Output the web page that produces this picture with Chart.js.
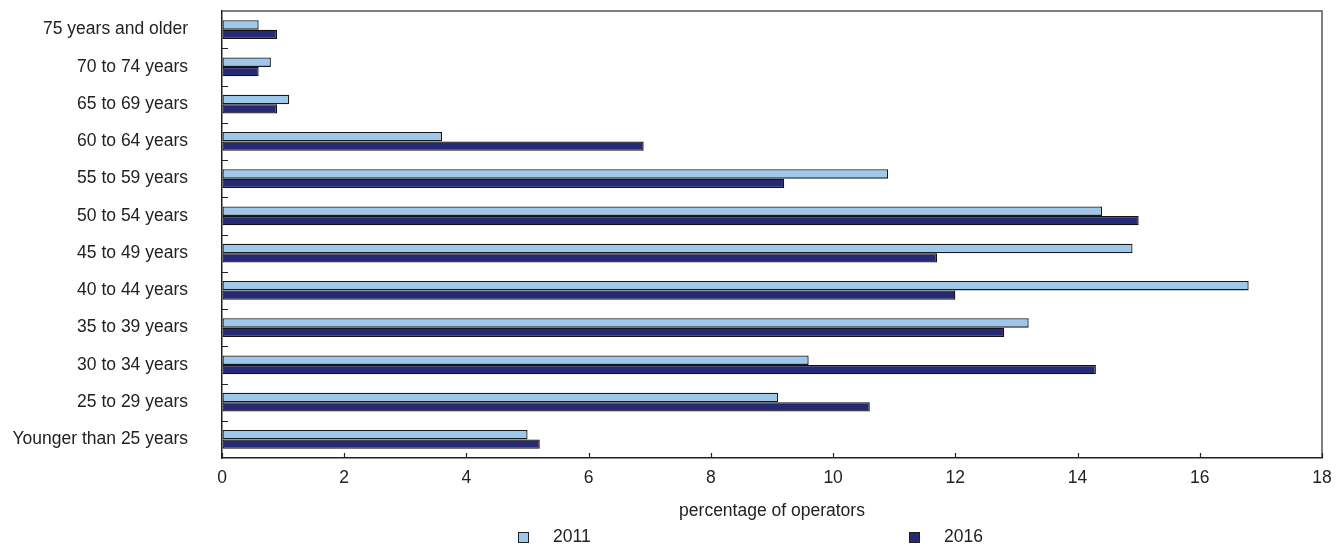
<!DOCTYPE html>
<html>
<head>
<meta charset="utf-8">
<script src="https://cdn.jsdelivr.net/npm/chart.js@4.4.0/dist/chart.umd.min.js"></script>
<style>
  html, body { margin: 0; padding: 0; background: #fff; }
</style>
</head>
<body>
<canvas id="myChart" width="1342" height="546"></canvas>
<script>
// categorias de cima para baixo, como no gráfico
const faixas = ['75 years and older', '70 to 74 years', '65 to 69 years', '60 to 64 years',
  '55 to 59 years', '50 to 54 years', '45 to 49 years', '40 to 44 years',
  '35 to 39 years', '30 to 34 years', '25 to 29 years', 'Younger than 25 years']
const anos = ['2011', '2016']
const valores2011 = [0.6, 0.8, 1.1, 3.6, 10.9, 14.4, 14.9, 16.8, 13.2, 9.6, 9.1, 5.0]
const valores2016 = [0.9, 0.6, 0.9, 6.9, 9.2, 15.0, 11.7, 12.0, 12.8, 14.3, 10.6, 5.2]
const eixoMin = 0
const eixoMax = 18
const passoX = 2
const tituloX = 'percentage of operators'

const fonte = "'Liberation Sans', Arial, sans-serif"
const tamanho = 17.5
const corTexto = '#222'

Chart.defaults.font.family = fonte
Chart.defaults.font.size = tamanho
Chart.defaults.color = corTexto

// moldura, ticks para dentro e legenda
const extras = {
  id: 'extras',
  afterDatasetsDraw(chart) {
    const ctx = chart.ctx
    const area = chart.chartArea
    const xs = chart.scales.x
    const ys = chart.scales.y
    ctx.save()
    ctx.strokeStyle = '#555'
    ctx.lineWidth = 1.5
    ctx.beginPath()
    ctx.moveTo(area.left, area.top)
    ctx.lineTo(area.right, area.top)
    ctx.lineTo(area.right, area.bottom)
    ctx.stroke()

    ctx.strokeStyle = '#222'
    ctx.lineWidth = 1.2
    ctx.beginPath()
    for (let i = 1; i < faixas.length; i++) {
      const y = Math.round(ys.getPixelForValue(i - 0.5)) + 0.5
      ctx.moveTo(area.left, y)
      ctx.lineTo(area.left + 6, y)
    }
    xs.ticks.forEach((t) => {
      const x = Math.round(xs.getPixelForValue(t.value)) + 0.5
      ctx.moveTo(x, area.bottom)
      ctx.lineTo(x, area.bottom - 5)
    })
    ctx.stroke()
    ctx.restore()
  },
  afterDraw(chart) {
    const ctx = chart.ctx
    const area = chart.chartArea
    const deslocamentos = [296, 687]
    const yLegenda = 537
    ctx.save()
    ctx.font = tamanho + 'px ' + fonte
    ctx.textBaseline = 'middle'
    chart.data.datasets.forEach((ds, i) => {
      const x = area.left + deslocamentos[i]
      ctx.fillStyle = ds.backgroundColor
      ctx.fillRect(x, yLegenda - 5, 10, 10)
      ctx.strokeStyle = '#222'
      ctx.lineWidth = 1
      ctx.strokeRect(x + 0.5, yLegenda - 4.5, 10, 10)
      ctx.fillStyle = corTexto
      ctx.fillText(ds.label, x + 35, yLegenda)
    })
    ctx.restore()
  }
}

const ctx = document.getElementById('myChart').getContext('2d')
const chart = new Chart(ctx, {
  type: 'bar',
  data: {
    labels: faixas,
    datasets: [{
      label: anos[0],
      data: valores2011,
      backgroundColor: '#9dc8ec',
      borderColor: '#1a1a1a',
      borderWidth: 1.3,
      borderSkipped: false,
      barPercentage: 1,
      categoryPercentage: 0.51
    }, {
      label: anos[1],
      data: valores2016,
      backgroundColor: '#262a72',
      borderColor: '#111',
      borderWidth: 1.3,
      borderSkipped: false,
      barPercentage: 1,
      categoryPercentage: 0.51
    }]
  },
  options: {
    indexAxis: 'y',
    responsive: false,
    animation: false,
    layout: { padding: { top: 11, right: 20, bottom: 22, left: 0 } },
    plugins: {
      legend: { display: false },
      tooltip: { enabled: false }
    },
    scales: {
      x: {
        type: 'linear',
        position: 'bottom',
        min: eixoMin,
        max: eixoMax,
        ticks: { stepSize: passoX, padding: 10 },
        grid: { drawOnChartArea: false, drawTicks: false },
        border: { color: '#222', width: 1.5 },
        title: { display: true, text: tituloX, padding: { top: 0, bottom: 2 } },
        afterFit(s) { s.height = 66 }
      },
      y: {
        offset: true,
        ticks: { padding: 34, autoSkip: false },
        grid: { drawOnChartArea: false, drawTicks: false },
        border: { color: '#222', width: 1.5 },
        afterFit(s) {
          s.width = 222
          s.paddingTop = 0
          s.paddingBottom = 0
        }
      }
    }
  },
  plugins: [extras]
})
</script>
</body>
</html>
